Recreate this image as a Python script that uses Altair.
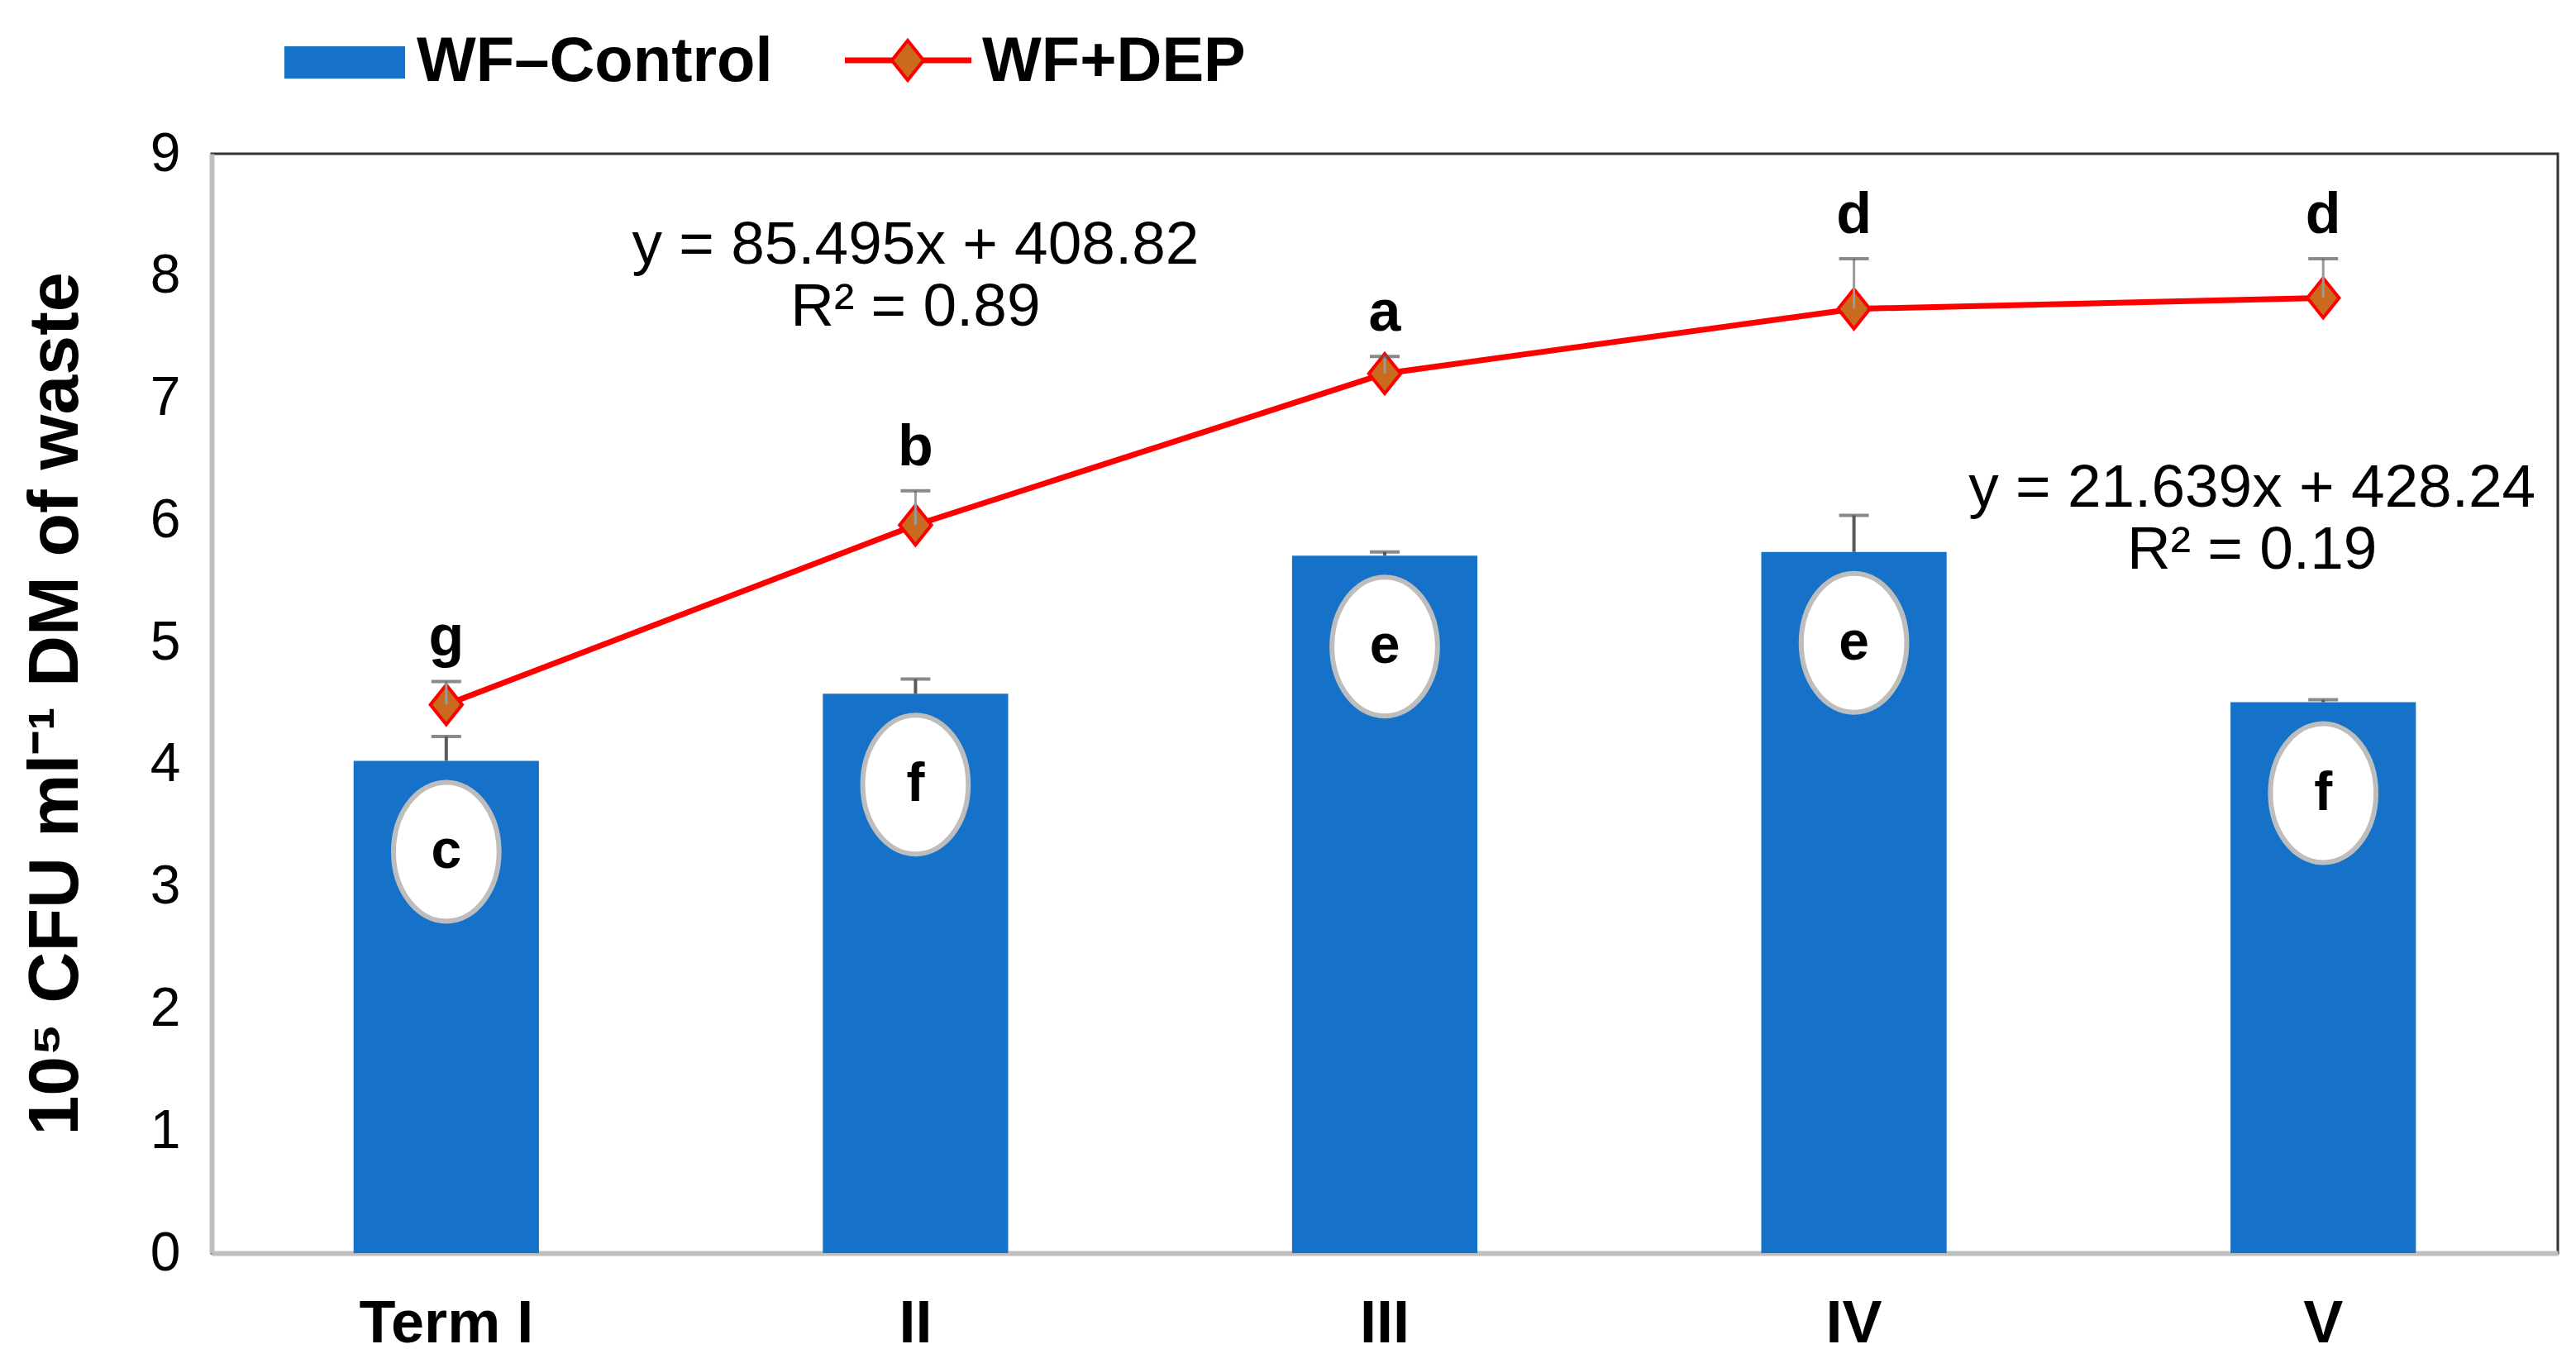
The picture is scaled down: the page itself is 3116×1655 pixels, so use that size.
import altair as alt
import pandas as pd

# ---- data ----
terms = ["Term I", "II", "III", "IV", "V"]
control_vals = [4.03, 4.58, 5.71, 5.74, 4.51]
control_err = [0.20, 0.12, 0.03, 0.30, 0.02]
control_letters = ["c", "f", "e", "e", "f"]
dep_vals = [4.49, 5.96, 7.20, 7.73, 7.82]
dep_err = [0.19, 0.28, 0.14, 0.41, 0.32]
dep_letters = ["g", "b", "a", "d", "d"]
series_names = ["WF\u2013Control", "WF+DEP"]
eq_dep = ["y = 85.495x + 408.82", "R\u00b2 = 0.89"]
eq_dep_pos = [8.25, 7.74]
eq_ctrl = ["y = 21.639x + 428.24", "R\u00b2 = 0.19"]
eq_ctrl_pos = [6.26, 5.75]
y_ticks = [0, 1, 2, 3, 4, 5, 6, 7, 8, 9]

FONT = "Liberation Sans"
BLUE = "#1672C9"
RED = "#FF0000"

df = pd.DataFrame({
    "term": terms,
    "ctrl": control_vals,
    "ctrl_top": [v + e for v, e in zip(control_vals, control_err)],
    "cl": control_letters,
    "dep": dep_vals,
    "dep_top": [v + e for v, e in zip(dep_vals, dep_err)],
    "dl": dep_letters,
})

xscale = alt.Scale(domain=terms, paddingInner=0.605, paddingOuter=0.3025)
yscale = alt.Scale(domain=[0, 9], nice=False, zero=True)

X = alt.X("term:N", scale=xscale, sort=terms,
          axis=alt.Axis(title=None, labelAngle=0, labelFontSize=72, labelFontWeight="bold",
                        labelFont=FONT, labelColor="black", labelPadding=50, ticks=False,
                        labelLimit=0, domainColor="#BFBFBF", domainWidth=6))
Y_AXIS = alt.Axis(title="10\u2075 CFU ml\u207b\u00b9 DM of waste", values=y_ticks, format="d",
                  grid=False, ticks=False,
                  labelFontSize=66, labelFont=FONT, labelColor="black", labelPadding=38,
                  titleFontSize=86, titleFont=FONT, titleFontWeight="bold", titleColor="black",
                  titlePadding=70, domainColor="#BFBFBF", domainWidth=6)

base = alt.Chart(df)
XS = alt.X("term:N", scale=xscale, sort=terms)

bars = base.mark_bar(color=BLUE).encode(
    x=X, y=alt.Y("ctrl:Q", scale=yscale, axis=Y_AXIS))

ctrl_stem = base.mark_rule(color="#595959", strokeWidth=4).encode(
    x=XS, y="ctrl:Q", y2="ctrl_top:Q")
ctrl_cap = base.mark_tick(color="#595959", size=36, thickness=4).encode(
    x=XS, y="ctrl_top:Q")

ELLIPSE = "M0,-1 A0.76,1 0 1,1 0,1 A0.76,1 0 1,1 0,-1 Z"
ovals = base.mark_point(shape=ELLIPSE, size=28224, filled=True, fill="white", stroke="#BDBDBD",
                        strokeWidth=6, opacity=1, yOffset=110).encode(
    x=XS, y="ctrl:Q")
oval_text = base.mark_text(font=FONT, fontSize=66, fontWeight="bold", color="black",
                           baseline="middle", dy=110).encode(
    x=XS, y="ctrl:Q", text="cl:N")

line = base.mark_line(color=RED, strokeWidth=7).encode(
    x=XS, y="dep:Q")
DIAMOND = "M0,-1 L0.8,0 L0,1 L-0.8,0 Z"
diamonds = base.mark_point(shape=DIAMOND, size=2304, filled=True, fill="#C96A1E", stroke=RED,
                           strokeWidth=4, opacity=1).encode(
    x=XS, y="dep:Q")
dep_stem = base.mark_rule(color="#999999", strokeWidth=3).encode(
    x=XS, y="dep:Q", y2="dep_top:Q")
dep_cap = base.mark_tick(color="#595959", size=36, thickness=4).encode(
    x=XS, y="dep_top:Q")
dep_text = base.mark_text(font=FONT, fontSize=70, fontWeight="bold", color="black",
                          baseline="bottom", dy=-16).encode(
    x=XS, y="dep_top:Q", text="dl:N")

eq1 = alt.Chart(pd.DataFrame({"term": ["II", "II"], "y": eq_dep_pos, "t": eq_dep})).mark_text(
    font=FONT, fontSize=73, color="black", baseline="middle").encode(
    x=XS, y="y:Q", text="t:N")
eq2 = alt.Chart(pd.DataFrame({"term": ["V", "V"], "y": eq_ctrl_pos, "t": eq_ctrl})).mark_text(
    font=FONT, fontSize=73, color="black", baseline="middle", dx=-86).encode(
    x=XS, y="y:Q", text="t:N")

# ---- legend (drawn above the plot area) ----
leg1 = pd.DataFrame({"label": [series_names[0]]})
leg2 = pd.DataFrame({"label": [series_names[1]]})
leg_rect = alt.Chart(leg1).mark_rect(color=BLUE).encode(
    x=alt.value(88), x2=alt.value(234), y=alt.value(-130), y2=alt.value(-91))
leg_text1 = alt.Chart(leg1).mark_text(font=FONT, fontSize=76, fontWeight="bold", color="black",
                                      align="left", baseline="alphabetic").encode(
    x=alt.value(248), y=alt.value(-88), text="label:N")
leg_line = alt.Chart(leg2).mark_rule(color=RED, strokeWidth=7).encode(
    x=alt.value(766), x2=alt.value(919), y=alt.value(-113))
leg_diamond = alt.Chart(leg2).mark_point(shape=DIAMOND, size=2304, filled=True, fill="#C96A1E",
                                         stroke=RED, strokeWidth=4, opacity=1).encode(
    x=alt.value(842), y=alt.value(-113))
leg_text2 = alt.Chart(leg2).mark_text(font=FONT, fontSize=76, fontWeight="bold", color="black",
                                      align="left", baseline="alphabetic").encode(
    x=alt.value(932), y=alt.value(-88), text="label:N")

chart = alt.layer(
    bars, ctrl_stem, ctrl_cap, ovals, oval_text,
    line, diamonds, dep_stem, dep_cap, dep_text, eq1, eq2,
    leg_rect, leg_text1, leg_line, leg_diamond, leg_text2,
).properties(
    width=2838, height=1330,
    padding={"left": 248, "top": 178, "right": 10, "bottom": 134},
    autosize=alt.AutoSizeParams(type="none"),
    background="white",
).configure_view(stroke="#333333", strokeWidth=3)

chart.save("out.html", embed_options={"renderer": "svg", "actions": False})
